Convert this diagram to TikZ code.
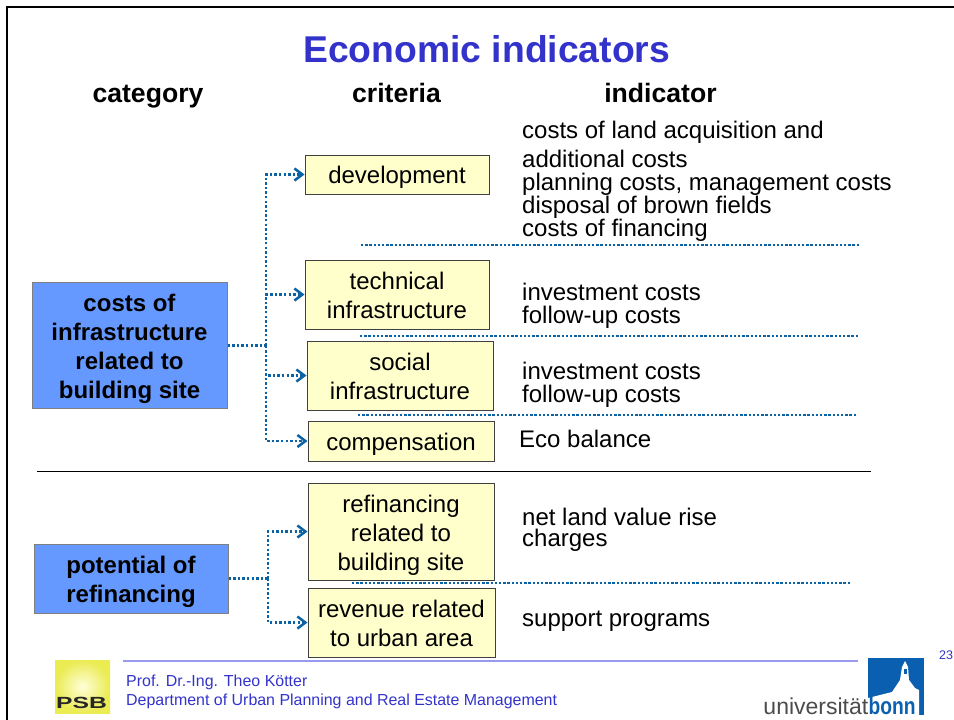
\documentclass[tikz,border=0pt]{standalone}
\usepackage{fontspec}
\setmainfont{Liberation Sans}
\usetikzlibrary{arrows.meta}
\definecolor{titleblue}{HTML}{3333CC}
\definecolor{linkblue}{HTML}{0B63A5}
\definecolor{catblue}{HTML}{6699FF}
\definecolor{critcream}{HTML}{FFFFCC}
\definecolor{footline}{HTML}{9999EE}
\definecolor{bonnblue}{HTML}{0A5FB0}
\tikzset{
  catbox/.style={draw=gray,line width=1pt,fill=catblue,inner sep=0pt,align=center,font=\fontsize{24}{29}\selectfont\bfseries},
  critbox/.style={draw=black!75,line width=1pt,fill=critcream,inner sep=0pt,align=center,font=\fontsize{24}{29}\selectfont},
  headtext/.style={anchor=base,inner sep=0pt,font=\fontsize{26.6}{30}\selectfont\bfseries},
  indtext/.style={anchor=base west,inner sep=0pt,font=\fontsize{24}{29}\selectfont},
  foottext/.style={anchor=base west,inner sep=0pt,text=titleblue,font=\fontsize{15.95}{18}\selectfont},
  link/.style={draw=linkblue,line width=2.5pt,dash pattern=on 2.4pt off 2.2pt},
  arrowlink/.style={link,-{Straight Barb[length=8pt,width=12pt,line width=2.5pt]}},
  seplink/.style={draw=linkblue,line width=2.5pt,dash pattern=on 2.4pt off 1.8pt}
}
\begin{document}
\begin{tikzpicture}[x=1pt,y=-1pt]
\useasboundingbox (0,0) rectangle (954,720);
\fill[white] (0,0) rectangle (954,720);
\draw[line width=2.5pt] (7,720) -- (7,7) -- (954,7);
\node[anchor=base,inner sep=0pt,text=titleblue,font=\fontsize{37.3}{40}\selectfont\bfseries] (title) at (486.7,62) {Economic indicators};
\node[headtext] (category) at (148,102) {category};
\node[headtext] (criteria) at (396.5,102) {criteria};
\node[headtext] (indicator) at (660.5,102) {indicator};
\node[catbox,text height=110.5pt,minimum width=195pt,minimum height=126pt] (costs) at (129.5,345.5) {costs of\\infrastructure\\related to\\building site};
\node[catbox,text height=52.5pt,minimum width=194pt,minimum height=69pt] (potential) at (131,578.5) {potential of\\refinancing};
\node[critbox,text height=23.5pt,minimum width=184pt,minimum height=39pt] (development) at (397,174.5) {development};
\node[critbox,text height=48.5pt,minimum width=184pt,minimum height=69pt] (technical) at (397,294.5) {technical\\infrastructure};
\node[critbox,text height=48.5pt,minimum width=186pt,minimum height=69pt] (social) at (400,375.5) {social\\infrastructure};
\node[critbox,text height=23.5pt,minimum width=186pt,minimum height=40pt] (compensation) at (401,441) {compensation};
\node[critbox,text height=83.5pt,minimum width=186pt,minimum height=97pt] (refinancing) at (401,531.5) {refinancing\\related to\\building site};
\node[critbox,text height=48.5pt,minimum width=187pt,minimum height=69pt] (revenue) at (401.5,622.5) {revenue related\\to urban area};
\node[indtext] (ind1) at (522,138) {costs of land acquisition and};
\node[indtext] (ind2) at (522,167) {additional costs};
\node[indtext] (ind3) at (522,190) {planning costs, management costs};
\node[indtext] (ind4) at (522,213) {disposal of brown fields};
\node[indtext] (ind5) at (522,236) {costs of financing};
\node[indtext] (ind6) at (522,300) {investment costs};
\node[indtext] (ind7) at (522,323) {follow-up costs};
\node[indtext] (ind8) at (522,379) {investment costs};
\node[indtext] (ind9) at (522,402) {follow-up costs};
\node[indtext] (ind10) at (519,447) {Eco balance};
\node[indtext] (ind11) at (522,525) {net land value rise};
\node[indtext] (ind12) at (522,546) {charges};
\node[indtext] (ind13) at (522,626) {support programs};
\coordinate (trunka) at (266,345.5);
\coordinate (trunkb) at (268,578.5);
\draw[link] (costs.east) -- (trunka);
\draw[arrowlink] (trunka) |- (development.west);
\draw[arrowlink] (trunka) |- (technical.west);
\draw[arrowlink] (trunka) |- (social.west);
\draw[arrowlink] (trunka) |- (compensation.west);
\draw[link] (potential.east) -- (trunkb);
\draw[arrowlink] (trunkb) |- (refinancing.west);
\draw[arrowlink] (trunkb) |- (revenue.west);
\coordinate (sepaw) at (361,245);
\coordinate (sepae) at (860,245);
\coordinate (sepbw) at (360,336);
\coordinate (sepbe) at (859,336);
\coordinate (sepcw) at (358,415);
\coordinate (sepce) at (857,415);
\coordinate (sepdw) at (352,583);
\coordinate (sepde) at (851,583);
\draw[seplink] (sepaw) -- (sepae);
\draw[seplink] (sepbw) -- (sepbe);
\draw[seplink] (sepcw) -- (sepce);
\draw[seplink] (sepdw) -- (sepde);
\coordinate (rulew) at (37,471);
\coordinate (rulee) at (871,471);
\draw[line width=1pt] (rulew) -- (rulee);
\coordinate (footw) at (123,661);
\coordinate (foote) at (858,661);
\draw[footline,line width=1.3pt] (footw) -- (foote);
\node[foottext] (prof) at (126,686) {Prof. Dr.-Ing. Theo Kötter};
\node[foottext] (dept) at (126,705) {Department of Urban Planning and Real Estate Management};
\node[anchor=base,inner sep=0pt,text=titleblue,font=\fontsize{12.5}{14}\selectfont] (page) at (946,659) {23};
\shade[inner color=white!85!yellow,outer color=yellow!65!white!92!black] (55,660) rectangle (110,713);
\node[anchor=base,inner sep=0pt,text=black!85,font=\fontsize{17}{18}\selectfont\bfseries] (psb) at (81.5,708) {\scalebox{1.45}[0.95]{PSB}};
\fill[bonnblue] (868,658) rectangle (924,715);
\fill[white] (868,698) -- (892,692) -- (900,680) -- (902,667) -- (905,661) -- (908,667) -- (909,680) -- (915,688) -- (919,690) -- (919,716) -- (868,716) -- cycle;
\fill[bonnblue] (904,669) rectangle (906.5,674);
\node[anchor=base east,inner sep=0pt,text=black!70,font=\fontsize{23}{25}\selectfont] (uni) at (868.5,714) {universität};
\node[anchor=base west,inner sep=0pt,text=bonnblue,font=\fontsize{24}{25}\selectfont\bfseries] (bonn) at (868.5,714) {\scalebox{0.8}[1]{bonn}};
\end{tikzpicture}
\end{document}
